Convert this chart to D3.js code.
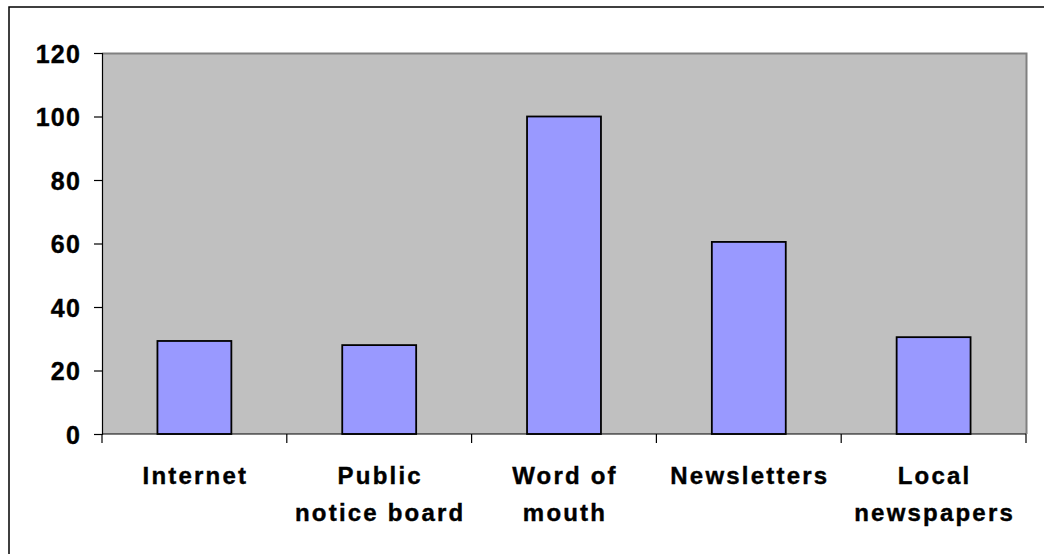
<!DOCTYPE html>
<html>
<head>
<meta charset="utf-8">
<script src="https://cdn.jsdelivr.net/npm/d3@7"></script>
<style>
  body { margin: 0; background: #fff; }
  text { font-family: "Liberation Sans", Arial, sans-serif; font-weight: bold; fill: #000; stroke: #000; stroke-width: 0.4px; }
</style>
</head>
<body>
<script>
// chart data
var categories = [["Internet"], ["Public", "notice board"], ["Word of", "mouth"], ["Newsletters"], ["Local", "newspapers"]];
var values = [29.3, 28, 100, 60.5, 30.5];
var yTicks = [0, 20, 40, 60, 80, 100, 120];

var width = 1044, height = 554;
var plot = { left: 102, top: 53, right: 1026, bottom: 434 };

var svg = d3.select('body').append('svg')
  .attr('width', width)
  .attr('height', height);

// outer chart border (only left and top fall inside the picture)
svg.append('rect')
  .attr('x', 9).attr('y', 7)
  .attr('width', width + 20).attr('height', height + 20)
  .attr('fill', 'none')
  .attr('stroke', '#000')
  .attr('stroke-width', 1.5);

var x = d3.scaleBand()
  .domain(d3.range(categories.length))
  .range([plot.left, plot.right])
  .paddingInner(0.6)
  .paddingOuter(0.3);

var xOuter = d3.scaleBand()
  .domain(d3.range(categories.length))
  .range([plot.left, plot.right]);

var y = d3.scaleLinear()
  .domain([0, 120])
  .range([plot.bottom, plot.top]);

// plot area
svg.append('rect')
  .attr('x', plot.left).attr('y', plot.top)
  .attr('width', plot.right - plot.left).attr('height', plot.bottom - plot.top)
  .attr('fill', '#c0c0c0');
svg.append('path')
  .attr('d', 'M' + plot.left + ',' + (plot.top + 0.5) + 'H' + (plot.right + 0.5) + 'V' + plot.bottom)
  .attr('fill', 'none')
  .attr('stroke', '#808080')
  .attr('stroke-width', 2);

// bars
svg.selectAll('.bar')
  .data(values)
  .enter().append('rect')
  .attr('class', 'bar')
  .attr('x', function(d, i) { return x(i); })
  .attr('y', function(d) { return y(d); })
  .attr('width', x.bandwidth())
  .attr('height', function(d) { return y(0) - y(d); })
  .attr('fill', '#9999ff')
  .attr('stroke', '#000')
  .attr('stroke-width', 1.8);

// y axis
var yAxis = d3.axisLeft(y)
  .tickValues(yTicks)
  .tickSize(8)
  .tickPadding(13);
var gy = svg.append('g')
  .attr('transform', 'translate(' + plot.left + ',0)')
  .call(yAxis);
gy.select('.domain').attr('stroke', '#000').attr('stroke-width', 1.2);
gy.selectAll('.tick line').attr('stroke', '#000').attr('stroke-width', 1.2);
gy.selectAll('.tick text')
  .attr('font-size', 25)
  .attr('font-family', '"Liberation Sans", Arial, sans-serif')
  .style('letter-spacing', '1.2px')
  .attr('dy', '0.37em');

// x axis line and category ticks
var xEdges = d3.range(categories.length + 1).map(function(i) {
  return i < categories.length ? xOuter(i) : plot.right;
});
svg.append('line')
  .attr('x1', plot.left).attr('x2', plot.right)
  .attr('y1', plot.bottom).attr('y2', plot.bottom)
  .attr('stroke', '#000').attr('stroke-width', 1.2);
svg.selectAll('.xtick')
  .data(xEdges)
  .enter().append('line')
  .attr('class', 'xtick')
  .attr('x1', function(d) { return d; }).attr('x2', function(d) { return d; })
  .attr('y1', plot.bottom).attr('y2', plot.bottom + 9)
  .attr('stroke', '#000').attr('stroke-width', 1.2);

// category labels
var labels = svg.selectAll('.xlabel')
  .data(categories)
  .enter().append('text')
  .attr('class', 'xlabel')
  .attr('text-anchor', 'middle')
  .attr('font-size', 24)
  .style('letter-spacing', '2.2px')
  .attr('transform', function(d, i) {
    return 'translate(' + (xOuter(i) + xOuter.bandwidth() / 2 + 1) + ',484)';
  });
labels.selectAll('tspan')
  .data(function(d) { return d; })
  .enter().append('tspan')
  .attr('x', 0)
  .attr('y', function(d, i) { return i * 37; })
  .text(function(d) { return d; });
</script>
</body>
</html>
